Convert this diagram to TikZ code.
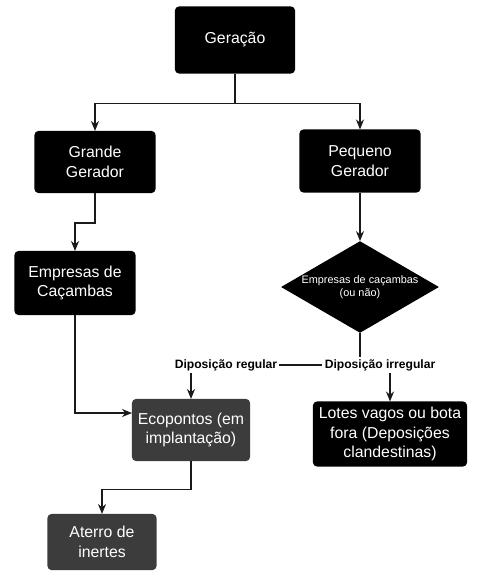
\documentclass[tikz,border=0pt]{standalone}
\usepackage{fontspec}
\setmainfont{Liberation Sans}
\setsansfont{Liberation Sans}
\usetikzlibrary{arrows.meta, shapes.geometric}
\definecolor{cdark}{HTML}{000000}
\definecolor{cgrain}{HTML}{3C3C3C}
\definecolor{cline}{HTML}{1A1A1A}
\tikzset{
  every picture/.style={font=\sffamily, line width=0.6pt},
  box/.style={draw=#1, fill=#1, text=white, rounded corners=2pt, align=center, inner sep=3pt, font=\sffamily\small},
  box/.default=cdark,
  decision/.style={diamond, draw=cdark, fill=cdark, text=white, align=center, inner sep=0pt, aspect=1.72, minimum width=3cm, minimum height=1.74cm, font=\sffamily\fontsize{6.2}{7.2}\selectfont},
  arrow/.style={-{Stealth[length=2mm, width=1.6mm]}, draw=cline},
  link/.style={draw=cline},
  tag/.style={font=\sffamily\bfseries\fontsize{6.9}{8}\selectfont, inner sep=1pt},
}

\begin{document}
\begin{tikzpicture}[x=0.02cm, y=-0.02cm]
  \useasboundingbox[fill=white] (0,0) rectangle (491,575);
  % caixas
  \node[box, minimum width=2.38cm, minimum height=1.32cm] (geracao) at (235,40) {Geração};
  \node[box, minimum width=2.4cm, minimum height=1.22cm] (grande) at (95,162) {Grande\\Gerador};
  \node[box, minimum width=2.4cm, minimum height=1.24cm] (pequeno) at (360,161) {Pequeno\\Gerador};
  \node[box, minimum width=2.4cm, minimum height=1.26cm] (empresas) at (75,283) {Empresas de\\Caçambas};
  \node[decision] (carroca) at (360,287) {Empresas de caçambas\\(ou não)};
  \node[tag] (regular) at (226,365) {Diposição regular};
  \node[tag] (irregular) at (380,365) {Diposição irregular};
  \node[box=cgrain, minimum width=2.34cm, minimum height=1.22cm] (ecopontos) at (191,430) {Ecopontos (em\\implantação)};
  \node[box, minimum width=2.8cm, minimum height=1.28cm] (lotes) at (390,434) {Lotes vagos ou bota\\fora (Deposições\\clandestinas)};
  \node[box=cgrain, minimum width=2.16cm, minimum height=1.1cm] (aterro) at (102,542) {Aterro de\\inertes};

  % ligacoes
  \draw[link] (geracao.south) -- ++(0,30) coordinate (split);
  \draw[arrow] (split) -| (grande.north);
  \draw[arrow] (split) -| (pequeno.north);
  \draw[arrow] (grande.south) -- ++(0,30) -| (empresas.north);
  \draw[arrow] (pequeno.south) -- (carroca.north);
  \draw[arrow] (empresas.south) |- ([yshift=0.34cm]ecopontos.west);
  \draw[link] (carroca.south) -- (irregular.north -| carroca.south);
  \draw[link] (regular.east) -- (irregular.west);
  \draw[arrow] (ecopontos.north |- regular.south) -- (ecopontos.north);
  \draw[arrow] (lotes.north |- irregular.south) -- (lotes.north);
  \draw[arrow] (ecopontos.south) -- ++(0,28) -| (aterro.north);
\end{tikzpicture}
\end{document}
